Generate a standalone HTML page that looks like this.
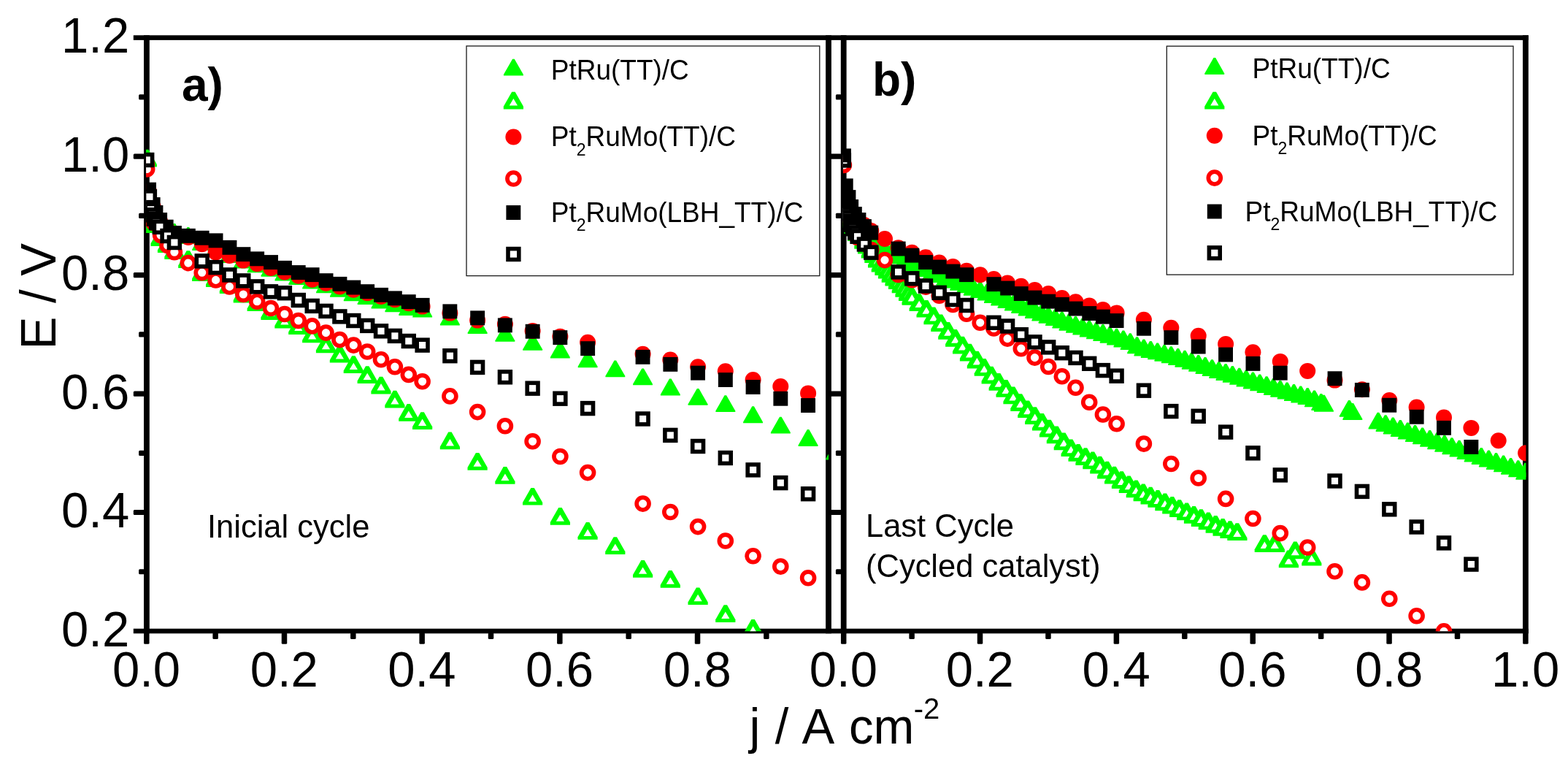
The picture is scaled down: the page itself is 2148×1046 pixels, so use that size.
<!DOCTYPE html>
<html lang="en">
<head>
<meta charset="utf-8">
<title>Polarization curves</title>
<style>html,body{margin:0;padding:0;background:#fff;}body{width:2148px;height:1046px;overflow:hidden;}svg{display:block;}text{fill:#000;}</style>
</head>
<body>
<svg width="2148" height="1046" viewBox="0 0 2148 1046" role="img" aria-label="Polarization curves E / V versus j / A cm-2 for panels a and b">
<rect width="2148" height="1046" fill="#fff"/>
<defs>
<clipPath id="ca"><rect x="200.1" y="51.6" width="934.9" height="812.7"/></clipPath>
<clipPath id="cb"><rect x="1154.9" y="51.6" width="935.5" height="812.7"/></clipPath>
</defs>
<rect x="182.8" y="48.30" width="1911.0" height="6.6" fill="#000"/>
<rect x="182.8" y="860.70" width="1911.0" height="6.6" fill="#000"/>
<rect x="197.00" y="48.30" width="7.8" height="819.00" fill="#000"/>
<rect x="1131.10" y="48.30" width="7.8" height="819.00" fill="#000"/>
<rect x="1151.80" y="48.30" width="7.8" height="819.00" fill="#000"/>
<rect x="2086.00" y="48.30" width="7.8" height="819.00" fill="#000"/>
<rect x="190.1" y="779.16" width="7.9" height="7.2" rx="1.5" fill="#000"/>
<rect x="1144.9" y="779.16" width="7.9" height="7.2" rx="1.5" fill="#000"/>
<rect x="182.8" y="697.92" width="15.2" height="7.2" rx="1.5" fill="#000"/>
<rect x="1137.6" y="697.92" width="15.2" height="7.2" rx="1.5" fill="#000"/>
<rect x="190.1" y="616.68" width="7.9" height="7.2" rx="1.5" fill="#000"/>
<rect x="1144.9" y="616.68" width="7.9" height="7.2" rx="1.5" fill="#000"/>
<rect x="182.8" y="535.44" width="15.2" height="7.2" rx="1.5" fill="#000"/>
<rect x="1137.6" y="535.44" width="15.2" height="7.2" rx="1.5" fill="#000"/>
<rect x="190.1" y="454.20" width="7.9" height="7.2" rx="1.5" fill="#000"/>
<rect x="1144.9" y="454.20" width="7.9" height="7.2" rx="1.5" fill="#000"/>
<rect x="182.8" y="372.96" width="15.2" height="7.2" rx="1.5" fill="#000"/>
<rect x="1137.6" y="372.96" width="15.2" height="7.2" rx="1.5" fill="#000"/>
<rect x="190.1" y="291.72" width="7.9" height="7.2" rx="1.5" fill="#000"/>
<rect x="1144.9" y="291.72" width="7.9" height="7.2" rx="1.5" fill="#000"/>
<rect x="182.8" y="210.48" width="15.2" height="7.2" rx="1.5" fill="#000"/>
<rect x="1137.6" y="210.48" width="15.2" height="7.2" rx="1.5" fill="#000"/>
<rect x="190.1" y="129.24" width="7.9" height="7.2" rx="1.5" fill="#000"/>
<rect x="1144.9" y="129.24" width="7.9" height="7.2" rx="1.5" fill="#000"/>
<rect x="197.05" y="866.30" width="7.5" height="15.4" rx="1.5" fill="#000"/>
<rect x="291.39" y="866.30" width="7.5" height="8.6" rx="1.5" fill="#000"/>
<rect x="385.73" y="866.30" width="7.5" height="15.4" rx="1.5" fill="#000"/>
<rect x="480.07" y="866.30" width="7.5" height="8.6" rx="1.5" fill="#000"/>
<rect x="574.41" y="866.30" width="7.5" height="15.4" rx="1.5" fill="#000"/>
<rect x="668.75" y="866.30" width="7.5" height="8.6" rx="1.5" fill="#000"/>
<rect x="763.09" y="866.30" width="7.5" height="15.4" rx="1.5" fill="#000"/>
<rect x="857.43" y="866.30" width="7.5" height="8.6" rx="1.5" fill="#000"/>
<rect x="951.77" y="866.30" width="7.5" height="15.4" rx="1.5" fill="#000"/>
<rect x="1046.11" y="866.30" width="7.5" height="8.6" rx="1.5" fill="#000"/>
<rect x="1151.95" y="866.30" width="7.5" height="15.4" rx="1.5" fill="#000"/>
<rect x="1245.37" y="866.30" width="7.5" height="8.6" rx="1.5" fill="#000"/>
<rect x="1338.79" y="866.30" width="7.5" height="15.4" rx="1.5" fill="#000"/>
<rect x="1432.21" y="866.30" width="7.5" height="8.6" rx="1.5" fill="#000"/>
<rect x="1525.63" y="866.30" width="7.5" height="15.4" rx="1.5" fill="#000"/>
<rect x="1619.05" y="866.30" width="7.5" height="8.6" rx="1.5" fill="#000"/>
<rect x="1712.47" y="866.30" width="7.5" height="15.4" rx="1.5" fill="#000"/>
<rect x="1805.89" y="866.30" width="7.5" height="8.6" rx="1.5" fill="#000"/>
<rect x="1899.31" y="866.30" width="7.5" height="15.4" rx="1.5" fill="#000"/>
<rect x="1992.73" y="866.30" width="7.5" height="8.6" rx="1.5" fill="#000"/>
<rect x="2086.15" y="866.30" width="7.5" height="15.4" rx="1.5" fill="#000"/>
<g clip-path="url(#ca)">
<polygon points="199.9,205.1 202.5,205.1 214.6,226.5 214.6,228.0 187.8,228.0 187.8,226.5" fill="#00ff00"/><polygon points="204.6,272.1 207.2,272.1 219.4,293.5 219.4,295.0 192.5,295.0 192.5,293.5" fill="#00ff00"/><polygon points="209.3,285.1 211.9,285.1 224.1,306.5 224.1,308.0 197.2,308.0 197.2,306.5" fill="#00ff00"/><polygon points="218.8,295.1 221.4,295.1 233.5,316.5 233.5,318.0 206.6,318.0 206.6,316.5" fill="#00ff00"/><polygon points="228.2,301.1 230.8,301.1 243.0,322.5 243.0,324.0 216.1,324.0 216.1,322.5" fill="#00ff00"/><polygon points="237.6,306.1 240.2,306.1 252.4,327.5 252.4,329.0 225.5,329.0 225.5,327.5" fill="#00ff00"/><polygon points="256.5,311.1 259.1,311.1 271.3,332.5 271.3,334.0 244.4,334.0 244.4,332.5" fill="#00ff00"/><polygon points="275.4,320.1 278.0,320.1 290.1,341.5 290.1,343.0 263.2,343.0 263.2,341.5" fill="#00ff00"/><polygon points="294.3,329.1 296.9,329.1 309.0,350.5 309.0,352.0 282.1,352.0 282.1,350.5" fill="#00ff00"/><polygon points="313.1,337.1 315.7,337.1 327.9,358.5 327.9,360.0 301.0,360.0 301.0,358.5" fill="#00ff00"/><polygon points="332.0,344.7 334.6,344.7 346.8,366.1 346.8,367.6 319.9,367.6 319.9,366.1" fill="#00ff00"/><polygon points="350.9,350.3 353.5,350.3 365.6,371.7 365.6,373.2 338.7,373.2 338.7,371.7" fill="#00ff00"/><polygon points="369.7,355.9 372.3,355.9 384.5,377.3 384.5,378.8 357.6,378.8 357.6,377.3" fill="#00ff00"/><polygon points="388.6,361.5 391.2,361.5 403.4,382.9 403.4,384.4 376.5,384.4 376.5,382.9" fill="#00ff00"/><polygon points="407.5,367.1 410.1,367.1 422.2,388.5 422.2,390.0 395.3,390.0 395.3,388.5" fill="#00ff00"/><polygon points="426.4,372.7 429.0,372.7 441.1,394.1 441.1,395.6 414.2,395.6 414.2,394.1" fill="#00ff00"/><polygon points="445.2,378.3 447.8,378.3 460.0,399.7 460.0,401.2 433.1,401.2 433.1,399.7" fill="#00ff00"/><polygon points="464.1,383.8 466.7,383.8 478.9,405.2 478.9,406.7 452.0,406.7 452.0,405.2" fill="#00ff00"/><polygon points="483.0,389.4 485.6,389.4 497.7,410.8 497.7,412.3 470.8,412.3 470.8,410.8" fill="#00ff00"/><polygon points="501.9,394.1 504.5,394.1 516.6,415.5 516.6,417.0 489.7,417.0 489.7,415.5" fill="#00ff00"/><polygon points="520.7,399.7 523.3,399.7 535.5,421.1 535.5,422.6 508.6,422.6 508.6,421.1" fill="#00ff00"/><polygon points="539.6,404.4 542.2,404.4 554.3,425.8 554.3,427.3 527.4,427.3 527.4,425.8" fill="#00ff00"/><polygon points="558.5,409.0 561.1,409.0 573.2,430.4 573.2,431.9 546.3,431.9 546.3,430.4" fill="#00ff00"/><polygon points="577.3,411.6 579.9,411.6 592.1,433.0 592.1,434.5 565.2,434.5 565.2,433.0" fill="#00ff00"/><polygon points="615.1,422.5 617.7,422.5 629.8,443.9 629.8,445.4 602.9,445.4 602.9,443.9" fill="#00ff00"/><polygon points="652.8,434.2 655.4,434.2 667.6,455.6 667.6,457.1 640.7,457.1 640.7,455.6" fill="#00ff00"/><polygon points="690.6,444.9 693.2,444.9 705.3,466.3 705.3,467.8 678.4,467.8 678.4,466.3" fill="#00ff00"/><polygon points="728.3,456.9 730.9,456.9 743.1,478.3 743.1,479.8 716.2,479.8 716.2,478.3" fill="#00ff00"/><polygon points="766.1,467.6 768.7,467.6 780.8,489.0 780.8,490.5 753.9,490.5 753.9,489.0" fill="#00ff00"/><polygon points="803.8,480.3 806.4,480.3 818.6,501.7 818.6,503.2 791.7,503.2 791.7,501.7" fill="#00ff00"/><polygon points="841.5,493.4 844.1,493.4 856.3,514.8 856.3,516.3 829.4,516.3 829.4,514.8" fill="#00ff00"/><polygon points="879.3,504.4 881.9,504.4 894.0,525.8 894.0,527.3 867.1,527.3 867.1,525.8" fill="#00ff00"/><polygon points="917.0,518.5 919.6,518.5 931.8,539.9 931.8,541.4 904.9,541.4 904.9,539.9" fill="#00ff00"/><polygon points="954.8,531.9 957.4,531.9 969.5,553.3 969.5,554.8 942.6,554.8 942.6,553.3" fill="#00ff00"/><polygon points="992.5,541.2 995.1,541.2 1007.3,562.6 1007.3,564.1 980.4,564.1 980.4,562.6" fill="#00ff00"/><polygon points="1030.3,556.3 1032.9,556.3 1045.0,577.7 1045.0,579.2 1018.1,579.2 1018.1,577.7" fill="#00ff00"/><polygon points="1068.0,570.7 1070.6,570.7 1082.8,592.1 1082.8,593.6 1055.9,593.6 1055.9,592.1" fill="#00ff00"/><polygon points="1105.8,588.1 1108.4,588.1 1120.5,609.5 1120.5,611.0 1093.6,611.0 1093.6,609.5" fill="#00ff00"/><polygon points="1143.5,606.6 1146.1,606.6 1158.2,628.0 1158.2,629.5 1131.3,629.5 1131.3,628.0" fill="#00ff00"/>
<polygon points="199.0,204.8 203.4,204.8 214.8,224.9 214.8,228.5 187.6,228.5 187.6,224.9" fill="#00ff00"/><polygon points="201.2,214.2 206.8,223.6 195.6,223.6" fill="#fff"/><polygon points="203.7,282.3 208.1,282.3 219.5,302.4 219.5,306.0 192.3,306.0 192.3,302.4" fill="#00ff00"/><polygon points="205.9,291.7 211.5,301.1 200.3,301.1" fill="#fff"/><polygon points="208.4,295.3 212.8,295.3 224.2,315.4 224.2,319.0 197.0,319.0 197.0,315.4" fill="#00ff00"/><polygon points="210.6,304.7 216.2,314.1 205.0,314.1" fill="#fff"/><polygon points="217.9,313.3 222.3,313.3 233.7,333.4 233.7,337.0 206.5,337.0 206.5,333.4" fill="#00ff00"/><polygon points="220.1,322.7 225.7,332.1 214.5,332.1" fill="#fff"/><polygon points="227.3,322.3 231.7,322.3 243.1,342.4 243.1,346.0 215.9,346.0 215.9,342.4" fill="#00ff00"/><polygon points="229.5,331.7 235.1,341.1 223.9,341.1" fill="#fff"/><polygon points="236.7,331.3 241.1,331.3 252.5,351.4 252.5,355.0 225.3,355.0 225.3,351.4" fill="#00ff00"/><polygon points="238.9,340.7 244.5,350.1 233.3,350.1" fill="#fff"/><polygon points="255.6,343.3 260.0,343.3 271.4,363.4 271.4,367.0 244.2,367.0 244.2,363.4" fill="#00ff00"/><polygon points="257.8,352.7 263.4,362.1 252.2,362.1" fill="#fff"/><polygon points="274.5,361.3 278.9,361.3 290.3,381.4 290.3,385.0 263.1,385.0 263.1,381.4" fill="#00ff00"/><polygon points="276.7,370.7 282.3,380.1 271.1,380.1" fill="#fff"/><polygon points="293.4,369.3 297.8,369.3 309.2,389.4 309.2,393.0 282.0,393.0 282.0,389.4" fill="#00ff00"/><polygon points="295.6,378.7 301.2,388.1 290.0,388.1" fill="#fff"/><polygon points="312.2,378.3 316.6,378.3 328.0,398.4 328.0,402.0 300.8,402.0 300.8,398.4" fill="#00ff00"/><polygon points="314.4,387.7 320.0,397.1 308.8,397.1" fill="#fff"/><polygon points="331.1,390.8 335.5,390.8 346.9,410.9 346.9,414.5 319.7,414.5 319.7,410.9" fill="#00ff00"/><polygon points="333.3,400.2 338.9,409.6 327.7,409.6" fill="#fff"/><polygon points="350.0,402.3 354.4,402.3 365.8,422.4 365.8,426.0 338.6,426.0 338.6,422.4" fill="#00ff00"/><polygon points="352.2,411.7 357.8,421.1 346.6,421.1" fill="#fff"/><polygon points="368.8,414.3 373.2,414.3 384.6,434.4 384.6,438.0 357.4,438.0 357.4,434.4" fill="#00ff00"/><polygon points="371.0,423.7 376.6,433.1 365.4,433.1" fill="#fff"/><polygon points="387.7,425.8 392.1,425.8 403.5,445.9 403.5,449.5 376.3,449.5 376.3,445.9" fill="#00ff00"/><polygon points="389.9,435.2 395.5,444.6 384.3,444.6" fill="#fff"/><polygon points="406.6,434.3 411.0,434.3 422.4,454.4 422.4,458.0 395.2,458.0 395.2,454.4" fill="#00ff00"/><polygon points="408.8,443.7 414.4,453.1 403.2,453.1" fill="#fff"/><polygon points="425.5,445.6 429.9,445.6 441.3,465.7 441.3,469.3 414.1,469.3 414.1,465.7" fill="#00ff00"/><polygon points="427.7,455.0 433.3,464.4 422.1,464.4" fill="#fff"/><polygon points="444.3,459.5 448.7,459.5 460.1,479.6 460.1,483.2 432.9,483.2 432.9,479.6" fill="#00ff00"/><polygon points="446.5,468.9 452.1,478.3 440.9,478.3" fill="#fff"/><polygon points="463.2,472.8 467.6,472.8 479.0,492.9 479.0,496.5 451.8,496.5 451.8,492.9" fill="#00ff00"/><polygon points="465.4,482.2 471.0,491.6 459.8,491.6" fill="#fff"/><polygon points="482.1,487.3 486.5,487.3 497.9,507.4 497.9,511.0 470.7,511.0 470.7,507.4" fill="#00ff00"/><polygon points="484.3,496.7 489.9,506.1 478.7,506.1" fill="#fff"/><polygon points="501.0,501.3 505.4,501.3 516.8,521.4 516.8,525.0 489.6,525.0 489.6,521.4" fill="#00ff00"/><polygon points="503.2,510.7 508.8,520.1 497.6,520.1" fill="#fff"/><polygon points="519.8,515.7 524.2,515.7 535.6,535.8 535.6,539.4 508.4,539.4 508.4,535.8" fill="#00ff00"/><polygon points="522.0,525.1 527.6,534.5 516.4,534.5" fill="#fff"/><polygon points="538.7,534.7 543.1,534.7 554.5,554.8 554.5,558.4 527.3,558.4 527.3,554.8" fill="#00ff00"/><polygon points="540.9,544.1 546.5,553.5 535.3,553.5" fill="#fff"/><polygon points="557.6,553.1 562.0,553.1 573.4,573.2 573.4,576.8 546.2,576.8 546.2,573.2" fill="#00ff00"/><polygon points="559.8,562.5 565.4,571.9 554.2,571.9" fill="#fff"/><polygon points="576.4,564.2 580.8,564.2 592.2,584.3 592.2,587.9 565.0,587.9 565.0,584.3" fill="#00ff00"/><polygon points="578.6,573.6 584.2,583.0 573.0,583.0" fill="#fff"/><polygon points="614.2,591.6 618.6,591.6 630.0,611.7 630.0,615.3 602.8,615.3 602.8,611.7" fill="#00ff00"/><polygon points="616.4,601.0 622.0,610.4 610.8,610.4" fill="#fff"/><polygon points="651.9,620.0 656.3,620.0 667.7,640.1 667.7,643.7 640.5,643.7 640.5,640.1" fill="#00ff00"/><polygon points="654.1,629.4 659.7,638.8 648.5,638.8" fill="#fff"/><polygon points="689.7,639.1 694.1,639.1 705.5,659.2 705.5,662.8 678.3,662.8 678.3,659.2" fill="#00ff00"/><polygon points="691.9,648.5 697.5,657.9 686.3,657.9" fill="#fff"/><polygon points="727.4,667.9 731.8,667.9 743.2,688.0 743.2,691.6 716.0,691.6 716.0,688.0" fill="#00ff00"/><polygon points="729.6,677.3 735.2,686.7 724.0,686.7" fill="#fff"/><polygon points="765.2,695.0 769.6,695.0 781.0,715.1 781.0,718.7 753.8,718.7 753.8,715.1" fill="#00ff00"/><polygon points="767.4,704.4 773.0,713.8 761.8,713.8" fill="#fff"/><polygon points="802.9,715.1 807.3,715.1 818.7,735.2 818.7,738.8 791.5,738.8 791.5,735.2" fill="#00ff00"/><polygon points="805.1,724.5 810.7,733.9 799.5,733.9" fill="#fff"/><polygon points="840.6,735.2 845.0,735.2 856.4,755.3 856.4,758.9 829.2,758.9 829.2,755.3" fill="#00ff00"/><polygon points="842.8,744.6 848.4,754.0 837.2,754.0" fill="#fff"/><polygon points="878.4,767.0 882.8,767.0 894.2,787.1 894.2,790.7 867.0,790.7 867.0,787.1" fill="#00ff00"/><polygon points="880.6,776.4 886.2,785.8 875.0,785.8" fill="#fff"/><polygon points="916.1,781.0 920.5,781.0 931.9,801.1 931.9,804.7 904.7,804.7 904.7,801.1" fill="#00ff00"/><polygon points="918.3,790.4 923.9,799.8 912.7,799.8" fill="#fff"/><polygon points="953.9,804.4 958.3,804.4 969.7,824.5 969.7,828.1 942.5,828.1 942.5,824.5" fill="#00ff00"/><polygon points="956.1,813.8 961.7,823.2 950.5,823.2" fill="#fff"/><polygon points="991.6,828.2 996.0,828.2 1007.4,848.3 1007.4,851.9 980.2,851.9 980.2,848.3" fill="#00ff00"/><polygon points="993.8,837.6 999.4,847.0 988.2,847.0" fill="#fff"/><polygon points="1029.4,847.9 1033.8,847.9 1045.2,868.0 1045.2,871.6 1018.0,871.6 1018.0,868.0" fill="#00ff00"/><polygon points="1031.6,857.3 1037.2,866.7 1026.0,866.7" fill="#fff"/>
<circle cx="201.2" cy="225.0" r="11.0" fill="#ff0000"/><circle cx="204.0" cy="262.0" r="11.0" fill="#ff0000"/><circle cx="209.7" cy="283.0" r="11.0" fill="#ff0000"/><circle cx="219.1" cy="303.0" r="11.0" fill="#ff0000"/><circle cx="227.6" cy="312.0" r="11.0" fill="#ff0000"/><circle cx="238.9" cy="320.0" r="11.0" fill="#ff0000"/><circle cx="257.8" cy="324.9" r="11.0" fill="#ff0000"/><circle cx="276.7" cy="334.2" r="11.0" fill="#ff0000"/><circle cx="295.6" cy="345.4" r="11.0" fill="#ff0000"/><circle cx="314.4" cy="350.0" r="11.0" fill="#ff0000"/><circle cx="333.3" cy="356.6" r="11.0" fill="#ff0000"/><circle cx="352.2" cy="361.3" r="11.0" fill="#ff0000"/><circle cx="371.0" cy="366.9" r="11.0" fill="#ff0000"/><circle cx="389.9" cy="372.5" r="11.0" fill="#ff0000"/><circle cx="408.8" cy="377.7" r="11.0" fill="#ff0000"/><circle cx="427.7" cy="382.7" r="11.0" fill="#ff0000"/><circle cx="446.5" cy="387.7" r="11.0" fill="#ff0000"/><circle cx="465.4" cy="392.4" r="11.0" fill="#ff0000"/><circle cx="484.3" cy="396.7" r="11.0" fill="#ff0000"/><circle cx="503.2" cy="401.3" r="11.0" fill="#ff0000"/><circle cx="522.0" cy="406.0" r="11.0" fill="#ff0000"/><circle cx="540.9" cy="410.3" r="11.0" fill="#ff0000"/><circle cx="559.8" cy="415.3" r="11.0" fill="#ff0000"/><circle cx="578.6" cy="419.6" r="11.0" fill="#ff0000"/><circle cx="616.4" cy="428.6" r="11.0" fill="#ff0000"/><circle cx="654.1" cy="438.6" r="11.0" fill="#ff0000"/><circle cx="691.9" cy="443.7" r="11.0" fill="#ff0000"/><circle cx="729.6" cy="453.0" r="11.0" fill="#ff0000"/><circle cx="767.4" cy="460.7" r="11.0" fill="#ff0000"/><circle cx="805.1" cy="468.8" r="11.0" fill="#ff0000"/><circle cx="880.6" cy="484.8" r="11.0" fill="#ff0000"/><circle cx="918.3" cy="492.5" r="11.0" fill="#ff0000"/><circle cx="956.1" cy="502.2" r="11.0" fill="#ff0000"/><circle cx="993.8" cy="508.2" r="11.0" fill="#ff0000"/><circle cx="1031.6" cy="520.0" r="11.0" fill="#ff0000"/><circle cx="1069.3" cy="529.0" r="11.0" fill="#ff0000"/><circle cx="1107.1" cy="538.4" r="11.0" fill="#ff0000"/>
<circle cx="201.2" cy="231.5" r="8.45" fill="#fff" stroke="#ff0000" stroke-width="5.7"/><circle cx="210.6" cy="305.0" r="8.45" fill="#fff" stroke="#ff0000" stroke-width="5.7"/><circle cx="220.1" cy="322.0" r="8.45" fill="#fff" stroke="#ff0000" stroke-width="5.7"/><circle cx="229.5" cy="336.0" r="8.45" fill="#fff" stroke="#ff0000" stroke-width="5.7"/><circle cx="238.9" cy="345.2" r="8.45" fill="#fff" stroke="#ff0000" stroke-width="5.7"/><circle cx="257.8" cy="360.1" r="8.45" fill="#fff" stroke="#ff0000" stroke-width="5.7"/><circle cx="276.7" cy="373.2" r="8.45" fill="#fff" stroke="#ff0000" stroke-width="5.7"/><circle cx="295.6" cy="383.4" r="8.45" fill="#fff" stroke="#ff0000" stroke-width="5.7"/><circle cx="314.4" cy="392.4" r="8.45" fill="#fff" stroke="#ff0000" stroke-width="5.7"/><circle cx="333.3" cy="403.0" r="8.45" fill="#fff" stroke="#ff0000" stroke-width="5.7"/><circle cx="352.2" cy="412.7" r="8.45" fill="#fff" stroke="#ff0000" stroke-width="5.7"/><circle cx="371.0" cy="422.0" r="8.45" fill="#fff" stroke="#ff0000" stroke-width="5.7"/><circle cx="389.9" cy="430.0" r="8.45" fill="#fff" stroke="#ff0000" stroke-width="5.7"/><circle cx="408.8" cy="439.0" r="8.45" fill="#fff" stroke="#ff0000" stroke-width="5.7"/><circle cx="427.7" cy="446.4" r="8.45" fill="#fff" stroke="#ff0000" stroke-width="5.7"/><circle cx="446.5" cy="455.6" r="8.45" fill="#fff" stroke="#ff0000" stroke-width="5.7"/><circle cx="465.4" cy="465.1" r="8.45" fill="#fff" stroke="#ff0000" stroke-width="5.7"/><circle cx="484.3" cy="472.6" r="8.45" fill="#fff" stroke="#ff0000" stroke-width="5.7"/><circle cx="503.2" cy="481.5" r="8.45" fill="#fff" stroke="#ff0000" stroke-width="5.7"/><circle cx="522.0" cy="492.2" r="8.45" fill="#fff" stroke="#ff0000" stroke-width="5.7"/><circle cx="540.9" cy="502.2" r="8.45" fill="#fff" stroke="#ff0000" stroke-width="5.7"/><circle cx="559.8" cy="512.9" r="8.45" fill="#fff" stroke="#ff0000" stroke-width="5.7"/><circle cx="578.6" cy="522.3" r="8.45" fill="#fff" stroke="#ff0000" stroke-width="5.7"/><circle cx="616.4" cy="542.4" r="8.45" fill="#fff" stroke="#ff0000" stroke-width="5.7"/><circle cx="654.1" cy="564.1" r="8.45" fill="#fff" stroke="#ff0000" stroke-width="5.7"/><circle cx="691.9" cy="583.2" r="8.45" fill="#fff" stroke="#ff0000" stroke-width="5.7"/><circle cx="729.6" cy="604.3" r="8.45" fill="#fff" stroke="#ff0000" stroke-width="5.7"/><circle cx="767.4" cy="625.0" r="8.45" fill="#fff" stroke="#ff0000" stroke-width="5.7"/><circle cx="805.1" cy="647.1" r="8.45" fill="#fff" stroke="#ff0000" stroke-width="5.7"/><circle cx="880.6" cy="689.6" r="8.45" fill="#fff" stroke="#ff0000" stroke-width="5.7"/><circle cx="918.3" cy="701.0" r="8.45" fill="#fff" stroke="#ff0000" stroke-width="5.7"/><circle cx="956.1" cy="721.1" r="8.45" fill="#fff" stroke="#ff0000" stroke-width="5.7"/><circle cx="993.8" cy="740.5" r="8.45" fill="#fff" stroke="#ff0000" stroke-width="5.7"/><circle cx="1031.6" cy="761.2" r="8.45" fill="#fff" stroke="#ff0000" stroke-width="5.7"/><circle cx="1069.3" cy="775.6" r="8.45" fill="#fff" stroke="#ff0000" stroke-width="5.7"/><circle cx="1107.1" cy="791.3" r="8.45" fill="#fff" stroke="#ff0000" stroke-width="5.7"/>
<rect x="194.1" y="249.7" width="19.9" height="19.9" fill="#000000"/><rect x="199.7" y="270.1" width="19.9" height="19.9" fill="#000000"/><rect x="203.5" y="281.1" width="19.9" height="19.9" fill="#000000"/><rect x="209.2" y="291.1" width="19.9" height="19.9" fill="#000000"/><rect x="217.7" y="300.7" width="19.9" height="19.9" fill="#000000"/><rect x="229.0" y="309.1" width="19.9" height="19.9" fill="#000000"/><rect x="247.9" y="312.9" width="19.9" height="19.9" fill="#000000"/><rect x="266.7" y="315.8" width="19.9" height="19.9" fill="#000000"/><rect x="285.6" y="319.4" width="19.9" height="19.9" fill="#000000"/><rect x="304.5" y="328.9" width="19.9" height="19.9" fill="#000000"/><rect x="323.4" y="338.2" width="19.9" height="19.9" fill="#000000"/><rect x="342.2" y="344.4" width="19.9" height="19.9" fill="#000000"/><rect x="361.1" y="349.1" width="19.9" height="19.9" fill="#000000"/><rect x="380.0" y="356.9" width="19.9" height="19.9" fill="#000000"/><rect x="398.8" y="363.1" width="19.9" height="19.9" fill="#000000"/><rect x="417.7" y="366.2" width="19.9" height="19.9" fill="#000000"/><rect x="436.6" y="374.2" width="19.9" height="19.9" fill="#000000"/><rect x="455.5" y="378.9" width="19.9" height="19.9" fill="#000000"/><rect x="474.3" y="383.6" width="19.9" height="19.9" fill="#000000"/><rect x="493.2" y="389.2" width="19.9" height="19.9" fill="#000000"/><rect x="512.1" y="393.9" width="19.9" height="19.9" fill="#000000"/><rect x="530.9" y="398.4" width="19.9" height="19.9" fill="#000000"/><rect x="549.8" y="403.2" width="19.9" height="19.9" fill="#000000"/><rect x="568.7" y="407.9" width="19.9" height="19.9" fill="#000000"/><rect x="606.4" y="416.4" width="19.9" height="19.9" fill="#000000"/><rect x="644.2" y="425.4" width="19.9" height="19.9" fill="#000000"/><rect x="681.9" y="435.4" width="19.9" height="19.9" fill="#000000"/><rect x="719.7" y="443.8" width="19.9" height="19.9" fill="#000000"/><rect x="757.4" y="452.2" width="19.9" height="19.9" fill="#000000"/><rect x="795.2" y="467.2" width="19.9" height="19.9" fill="#000000"/><rect x="870.6" y="478.9" width="19.9" height="19.9" fill="#000000"/><rect x="908.4" y="488.9" width="19.9" height="19.9" fill="#000000"/><rect x="946.1" y="500.7" width="19.9" height="19.9" fill="#000000"/><rect x="983.9" y="510.1" width="19.9" height="19.9" fill="#000000"/><rect x="1021.6" y="520.0" width="19.9" height="19.9" fill="#000000"/><rect x="1059.4" y="535.8" width="19.9" height="19.9" fill="#000000"/><rect x="1097.1" y="545.1" width="19.9" height="19.9" fill="#000000"/>
<rect x="193.8" y="211.6" width="14.8" height="14.8" fill="#fff" stroke="#000000" stroke-width="5.6"/><rect x="197.5" y="261.9" width="14.8" height="14.8" fill="#fff" stroke="#000000" stroke-width="5.6"/><rect x="199.1" y="279.5" width="14.8" height="14.8" fill="#fff" stroke="#000000" stroke-width="5.6"/><rect x="201.1" y="286.9" width="14.8" height="14.8" fill="#fff" stroke="#000000" stroke-width="5.6"/><rect x="203.6" y="292.3" width="14.8" height="14.8" fill="#fff" stroke="#000000" stroke-width="5.6"/><rect x="206.6" y="297.8" width="14.8" height="14.8" fill="#fff" stroke="#000000" stroke-width="5.6"/><rect x="211.4" y="303.4" width="14.8" height="14.8" fill="#fff" stroke="#000000" stroke-width="5.6"/><rect x="222.1" y="315.6" width="14.8" height="14.8" fill="#fff" stroke="#000000" stroke-width="5.6"/><rect x="231.5" y="324.6" width="14.8" height="14.8" fill="#fff" stroke="#000000" stroke-width="5.6"/><rect x="269.3" y="350.0" width="14.8" height="14.8" fill="#fff" stroke="#000000" stroke-width="5.6"/><rect x="288.2" y="358.7" width="14.8" height="14.8" fill="#fff" stroke="#000000" stroke-width="5.6"/><rect x="307.0" y="369.0" width="14.8" height="14.8" fill="#fff" stroke="#000000" stroke-width="5.6"/><rect x="325.9" y="377.0" width="14.8" height="14.8" fill="#fff" stroke="#000000" stroke-width="5.6"/><rect x="344.8" y="385.0" width="14.8" height="14.8" fill="#fff" stroke="#000000" stroke-width="5.6"/><rect x="363.6" y="391.9" width="14.8" height="14.8" fill="#fff" stroke="#000000" stroke-width="5.6"/><rect x="382.5" y="393.8" width="14.8" height="14.8" fill="#fff" stroke="#000000" stroke-width="5.6"/><rect x="401.4" y="403.6" width="14.8" height="14.8" fill="#fff" stroke="#000000" stroke-width="5.6"/><rect x="420.3" y="411.5" width="14.8" height="14.8" fill="#fff" stroke="#000000" stroke-width="5.6"/><rect x="439.1" y="418.5" width="14.8" height="14.8" fill="#fff" stroke="#000000" stroke-width="5.6"/><rect x="458.0" y="426.0" width="14.8" height="14.8" fill="#fff" stroke="#000000" stroke-width="5.6"/><rect x="476.9" y="431.6" width="14.8" height="14.8" fill="#fff" stroke="#000000" stroke-width="5.6"/><rect x="495.8" y="438.5" width="14.8" height="14.8" fill="#fff" stroke="#000000" stroke-width="5.6"/><rect x="514.6" y="445.9" width="14.8" height="14.8" fill="#fff" stroke="#000000" stroke-width="5.6"/><rect x="533.5" y="452.5" width="14.8" height="14.8" fill="#fff" stroke="#000000" stroke-width="5.6"/><rect x="552.4" y="459.6" width="14.8" height="14.8" fill="#fff" stroke="#000000" stroke-width="5.6"/><rect x="571.2" y="465.2" width="14.8" height="14.8" fill="#fff" stroke="#000000" stroke-width="5.6"/><rect x="609.0" y="479.8" width="14.8" height="14.8" fill="#fff" stroke="#000000" stroke-width="5.6"/><rect x="646.7" y="495.5" width="14.8" height="14.8" fill="#fff" stroke="#000000" stroke-width="5.6"/><rect x="684.5" y="508.9" width="14.8" height="14.8" fill="#fff" stroke="#000000" stroke-width="5.6"/><rect x="722.2" y="524.3" width="14.8" height="14.8" fill="#fff" stroke="#000000" stroke-width="5.6"/><rect x="760.0" y="538.3" width="14.8" height="14.8" fill="#fff" stroke="#000000" stroke-width="5.6"/><rect x="797.7" y="551.7" width="14.8" height="14.8" fill="#fff" stroke="#000000" stroke-width="5.6"/><rect x="873.2" y="566.1" width="14.8" height="14.8" fill="#fff" stroke="#000000" stroke-width="5.6"/><rect x="910.9" y="588.5" width="14.8" height="14.8" fill="#fff" stroke="#000000" stroke-width="5.6"/><rect x="948.7" y="603.6" width="14.8" height="14.8" fill="#fff" stroke="#000000" stroke-width="5.6"/><rect x="986.4" y="619.6" width="14.8" height="14.8" fill="#fff" stroke="#000000" stroke-width="5.6"/><rect x="1024.2" y="636.0" width="14.8" height="14.8" fill="#fff" stroke="#000000" stroke-width="5.6"/><rect x="1061.9" y="653.7" width="14.8" height="14.8" fill="#fff" stroke="#000000" stroke-width="5.6"/><rect x="1099.7" y="668.8" width="14.8" height="14.8" fill="#fff" stroke="#000000" stroke-width="5.6"/>

</g>
<g clip-path="url(#cb)">
<polygon points="1163.9,287.1 1166.5,287.1 1178.7,308.5 1178.7,310.0 1151.8,310.0 1151.8,308.5" fill="#00ff00"/><polygon points="1168.6,297.1 1171.2,297.1 1183.4,318.5 1183.4,320.0 1156.5,320.0 1156.5,318.5" fill="#00ff00"/><polygon points="1173.3,307.1 1175.9,307.1 1188.0,328.5 1188.0,330.0 1161.1,330.0 1161.1,328.5" fill="#00ff00"/><polygon points="1182.6,313.6 1185.2,313.6 1197.4,335.0 1197.4,336.5 1170.5,336.5 1170.5,335.0" fill="#00ff00"/><polygon points="1192.0,320.1 1194.6,320.1 1206.7,341.5 1206.7,343.0 1179.8,343.0 1179.8,341.5" fill="#00ff00"/><polygon points="1201.3,324.6 1203.9,324.6 1216.1,346.0 1216.1,347.5 1189.2,347.5 1189.2,346.0" fill="#00ff00"/><polygon points="1210.7,329.1 1213.3,329.1 1225.4,350.5 1225.4,352.0 1198.5,352.0 1198.5,350.5" fill="#00ff00"/><polygon points="1220.0,333.9 1222.6,333.9 1234.7,355.2 1234.7,356.8 1207.8,356.8 1207.8,355.2" fill="#00ff00"/><polygon points="1229.3,338.6 1231.9,338.6 1244.1,360.0 1244.1,361.5 1217.2,361.5 1217.2,360.0" fill="#00ff00"/><polygon points="1238.7,343.4 1241.3,343.4 1253.4,364.8 1253.4,366.2 1226.5,366.2 1226.5,364.8" fill="#00ff00"/><polygon points="1248.0,348.1 1250.6,348.1 1262.8,369.5 1262.8,371.0 1235.9,371.0 1235.9,369.5" fill="#00ff00"/><polygon points="1257.4,352.1 1260.0,352.1 1272.1,373.5 1272.1,375.0 1245.2,375.0 1245.2,373.5" fill="#00ff00"/><polygon points="1266.7,356.1 1269.3,356.1 1281.5,377.5 1281.5,379.0 1254.6,379.0 1254.6,377.5" fill="#00ff00"/><polygon points="1276.0,360.1 1278.6,360.1 1290.8,381.5 1290.8,383.0 1263.9,383.0 1263.9,381.5" fill="#00ff00"/><polygon points="1285.4,364.1 1288.0,364.1 1300.1,385.5 1300.1,387.0 1273.2,387.0 1273.2,385.5" fill="#00ff00"/><polygon points="1294.7,368.1 1297.3,368.1 1309.5,389.5 1309.5,391.0 1282.6,391.0 1282.6,389.5" fill="#00ff00"/><polygon points="1304.1,371.5 1306.7,371.5 1318.8,392.9 1318.8,394.4 1291.9,394.4 1291.9,392.9" fill="#00ff00"/><polygon points="1313.4,374.9 1316.0,374.9 1328.2,396.3 1328.2,397.8 1301.3,397.8 1301.3,396.3" fill="#00ff00"/><polygon points="1322.8,378.3 1325.4,378.3 1337.5,399.7 1337.5,401.2 1310.6,401.2 1310.6,399.7" fill="#00ff00"/><polygon points="1332.1,381.8 1334.7,381.8 1346.8,403.2 1346.8,404.7 1319.9,404.7 1319.9,403.2" fill="#00ff00"/><polygon points="1341.4,385.2 1344.0,385.2 1356.2,406.6 1356.2,408.1 1329.3,408.1 1329.3,406.6" fill="#00ff00"/><polygon points="1350.8,388.6 1353.4,388.6 1365.5,410.0 1365.5,411.5 1338.6,411.5 1338.6,410.0" fill="#00ff00"/><polygon points="1360.1,392.0 1362.7,392.0 1374.9,413.4 1374.9,414.9 1348.0,414.9 1348.0,413.4" fill="#00ff00"/><polygon points="1369.5,395.5 1372.1,395.5 1384.2,416.9 1384.2,418.4 1357.3,418.4 1357.3,416.9" fill="#00ff00"/><polygon points="1378.8,399.0 1381.4,399.0 1393.6,420.4 1393.6,421.9 1366.7,421.9 1366.7,420.4" fill="#00ff00"/><polygon points="1388.2,402.5 1390.8,402.5 1402.9,423.9 1402.9,425.4 1376.0,425.4 1376.0,423.9" fill="#00ff00"/><polygon points="1397.5,406.0 1400.1,406.0 1412.2,427.4 1412.2,428.9 1385.3,428.9 1385.3,427.4" fill="#00ff00"/><polygon points="1406.8,409.5 1409.4,409.5 1421.6,430.9 1421.6,432.4 1394.7,432.4 1394.7,430.9" fill="#00ff00"/><polygon points="1416.2,413.0 1418.8,413.0 1430.9,434.4 1430.9,435.9 1404.0,435.9 1404.0,434.4" fill="#00ff00"/><polygon points="1425.5,416.5 1428.1,416.5 1440.3,437.9 1440.3,439.4 1413.4,439.4 1413.4,437.9" fill="#00ff00"/><polygon points="1434.9,419.9 1437.5,419.9 1449.6,441.3 1449.6,442.8 1422.7,442.8 1422.7,441.3" fill="#00ff00"/><polygon points="1444.2,423.2 1446.8,423.2 1459.0,444.6 1459.0,446.1 1432.1,446.1 1432.1,444.6" fill="#00ff00"/><polygon points="1453.5,426.5 1456.1,426.5 1468.3,447.9 1468.3,449.4 1441.4,449.4 1441.4,447.9" fill="#00ff00"/><polygon points="1462.9,429.8 1465.5,429.8 1477.6,451.2 1477.6,452.7 1450.7,452.7 1450.7,451.2" fill="#00ff00"/><polygon points="1472.2,432.9 1474.8,432.9 1487.0,454.3 1487.0,455.8 1460.1,455.8 1460.1,454.3" fill="#00ff00"/><polygon points="1481.6,435.7 1484.2,435.7 1496.3,457.1 1496.3,458.6 1469.4,458.6 1469.4,457.1" fill="#00ff00"/><polygon points="1490.9,438.5 1493.5,438.5 1505.7,459.9 1505.7,461.4 1478.8,461.4 1478.8,459.9" fill="#00ff00"/><polygon points="1500.3,441.3 1502.9,441.3 1515.0,462.7 1515.0,464.2 1488.1,464.2 1488.1,462.7" fill="#00ff00"/><polygon points="1509.6,444.1 1512.2,444.1 1524.3,465.5 1524.3,467.0 1497.4,467.0 1497.4,465.5" fill="#00ff00"/><polygon points="1518.9,446.9 1521.5,446.9 1533.7,468.3 1533.7,469.8 1506.8,469.8 1506.8,468.3" fill="#00ff00"/><polygon points="1528.3,449.7 1530.9,449.7 1543.0,471.1 1543.0,472.6 1516.1,472.6 1516.1,471.1" fill="#00ff00"/><polygon points="1537.6,452.5 1540.2,452.5 1552.4,473.9 1552.4,475.4 1525.5,475.4 1525.5,473.9" fill="#00ff00"/><polygon points="1547.0,456.2 1549.6,456.2 1561.7,477.6 1561.7,479.1 1534.8,479.1 1534.8,477.6" fill="#00ff00"/><polygon points="1556.3,461.3 1558.9,461.3 1571.1,482.7 1571.1,484.2 1544.2,484.2 1544.2,482.7" fill="#00ff00"/><polygon points="1565.6,464.5 1568.2,464.5 1580.4,485.9 1580.4,487.4 1553.5,487.4 1553.5,485.9" fill="#00ff00"/><polygon points="1575.0,467.0 1577.6,467.0 1589.7,488.4 1589.7,489.9 1562.8,489.9 1562.8,488.4" fill="#00ff00"/><polygon points="1584.3,469.4 1586.9,469.4 1599.1,490.8 1599.1,492.3 1572.2,492.3 1572.2,490.8" fill="#00ff00"/><polygon points="1593.7,471.9 1596.3,471.9 1608.4,493.3 1608.4,494.8 1581.5,494.8 1581.5,493.3" fill="#00ff00"/><polygon points="1603.0,474.3 1605.6,474.3 1617.8,495.7 1617.8,497.2 1590.9,497.2 1590.9,495.7" fill="#00ff00"/><polygon points="1612.4,477.0 1615.0,477.0 1627.1,498.4 1627.1,499.9 1600.2,499.9 1600.2,498.4" fill="#00ff00"/><polygon points="1621.7,479.8 1624.3,479.8 1636.5,501.2 1636.5,502.7 1609.5,502.7 1609.5,501.2" fill="#00ff00"/><polygon points="1631.0,482.8 1633.6,482.8 1645.8,504.2 1645.8,505.7 1618.9,505.7 1618.9,504.2" fill="#00ff00"/><polygon points="1640.4,485.9 1643.0,485.9 1655.1,507.3 1655.1,508.8 1628.2,508.8 1628.2,507.3" fill="#00ff00"/><polygon points="1649.7,489.0 1652.3,489.0 1664.5,510.4 1664.5,511.9 1637.6,511.9 1637.6,510.4" fill="#00ff00"/><polygon points="1659.1,492.2 1661.7,492.2 1673.8,513.6 1673.8,515.1 1646.9,515.1 1646.9,513.6" fill="#00ff00"/><polygon points="1668.4,495.2 1671.0,495.2 1683.2,516.6 1683.2,518.1 1656.3,518.1 1656.3,516.6" fill="#00ff00"/><polygon points="1677.8,498.0 1680.4,498.0 1692.5,519.4 1692.5,520.9 1665.6,520.9 1665.6,519.4" fill="#00ff00"/><polygon points="1687.1,500.9 1689.7,500.9 1701.8,522.3 1701.8,523.8 1674.9,523.8 1674.9,522.3" fill="#00ff00"/><polygon points="1696.4,503.8 1699.0,503.8 1711.2,525.2 1711.2,526.7 1684.3,526.7 1684.3,525.2" fill="#00ff00"/><polygon points="1705.8,506.7 1708.4,506.7 1720.5,528.1 1720.5,529.6 1693.6,529.6 1693.6,528.1" fill="#00ff00"/><polygon points="1715.1,509.5 1717.7,509.5 1729.9,530.9 1729.9,532.4 1703.0,532.4 1703.0,530.9" fill="#00ff00"/><polygon points="1724.5,512.4 1727.1,512.4 1739.2,533.8 1739.2,535.3 1712.3,535.3 1712.3,533.8" fill="#00ff00"/><polygon points="1733.8,515.2 1736.4,515.2 1748.6,536.6 1748.6,538.1 1721.7,538.1 1721.7,536.6" fill="#00ff00"/><polygon points="1743.1,518.1 1745.7,518.1 1757.9,539.5 1757.9,541.0 1731.0,541.0 1731.0,539.5" fill="#00ff00"/><polygon points="1752.5,520.9 1755.1,520.9 1767.2,542.3 1767.2,543.8 1740.3,543.8 1740.3,542.3" fill="#00ff00"/><polygon points="1761.8,523.5 1764.4,523.5 1776.6,544.9 1776.6,546.4 1749.7,546.4 1749.7,544.9" fill="#00ff00"/><polygon points="1771.2,526.1 1773.8,526.1 1785.9,547.5 1785.9,549.0 1759.0,549.0 1759.0,547.5" fill="#00ff00"/><polygon points="1780.5,528.6 1783.1,528.6 1795.3,550.0 1795.3,551.5 1768.4,551.5 1768.4,550.0" fill="#00ff00"/><polygon points="1789.9,531.1 1792.5,531.1 1804.6,552.5 1804.6,554.0 1777.7,554.0 1777.7,552.5" fill="#00ff00"/><polygon points="1799.2,534.4 1801.8,534.4 1813.9,555.8 1813.9,557.3 1787.0,557.3 1787.0,555.8" fill="#00ff00"/><polygon points="1808.5,539.0 1811.1,539.0 1823.3,560.4 1823.3,561.9 1796.4,561.9 1796.4,560.4" fill="#00ff00"/><polygon points="1812.2,540.8 1814.8,540.8 1826.9,562.2 1826.9,563.7 1800.0,563.7 1800.0,562.2" fill="#00ff00"/><polygon points="1847.0,547.9 1849.6,547.9 1861.8,569.3 1861.8,570.8 1834.9,570.8 1834.9,569.3" fill="#00ff00"/><polygon points="1851.5,552.0 1854.1,552.0 1866.3,573.4 1866.3,574.9 1839.4,574.9 1839.4,573.4" fill="#00ff00"/><polygon points="1886.7,564.7 1889.3,564.7 1901.5,586.1 1901.5,587.6 1874.6,587.6 1874.6,586.1" fill="#00ff00"/><polygon points="1896.8,568.2 1899.4,568.2 1911.6,589.6 1911.6,591.1 1884.7,591.1 1884.7,589.6" fill="#00ff00"/><polygon points="1906.9,571.6 1909.5,571.6 1921.7,593.0 1921.7,594.5 1894.8,594.5 1894.8,593.0" fill="#00ff00"/><polygon points="1917.0,575.1 1919.6,575.1 1931.8,596.5 1931.8,598.0 1904.9,598.0 1904.9,596.5" fill="#00ff00"/><polygon points="1927.1,578.5 1929.7,578.5 1941.8,599.9 1941.8,601.4 1914.9,601.4 1914.9,599.9" fill="#00ff00"/><polygon points="1937.2,582.0 1939.8,582.0 1951.9,603.4 1951.9,604.9 1925.0,604.9 1925.0,603.4" fill="#00ff00"/><polygon points="1947.3,585.4 1949.9,585.4 1962.0,606.8 1962.0,608.3 1935.1,608.3 1935.1,606.8" fill="#00ff00"/><polygon points="1957.4,588.9 1960.0,588.9 1972.1,610.3 1972.1,611.8 1945.2,611.8 1945.2,610.3" fill="#00ff00"/><polygon points="1967.4,592.3 1970.0,592.3 1982.2,613.7 1982.2,615.2 1955.3,615.2 1955.3,613.7" fill="#00ff00"/><polygon points="1977.5,595.8 1980.1,595.8 1992.3,617.2 1992.3,618.7 1965.4,618.7 1965.4,617.2" fill="#00ff00"/><polygon points="1987.6,599.3 1990.2,599.3 2002.4,620.7 2002.4,622.2 1975.5,622.2 1975.5,620.7" fill="#00ff00"/><polygon points="1997.7,602.7 2000.3,602.7 2012.5,624.1 2012.5,625.6 1985.6,625.6 1985.6,624.1" fill="#00ff00"/><polygon points="2007.8,606.2 2010.4,606.2 2022.6,627.6 2022.6,629.1 1995.7,629.1 1995.7,627.6" fill="#00ff00"/><polygon points="2017.9,609.6 2020.5,609.6 2032.6,631.0 2032.6,632.5 2005.7,632.5 2005.7,631.0" fill="#00ff00"/><polygon points="2028.0,613.1 2030.6,613.1 2042.7,634.5 2042.7,636.0 2015.8,636.0 2015.8,634.5" fill="#00ff00"/><polygon points="2038.1,616.5 2040.7,616.5 2052.8,637.9 2052.8,639.4 2025.9,639.4 2025.9,637.9" fill="#00ff00"/><polygon points="2048.2,620.0 2050.8,620.0 2062.9,641.4 2062.9,642.9 2036.0,642.9 2036.0,641.4" fill="#00ff00"/><polygon points="2058.3,623.4 2060.9,623.4 2073.0,644.8 2073.0,646.3 2046.1,646.3 2046.1,644.8" fill="#00ff00"/><polygon points="2068.3,626.9 2070.9,626.9 2083.1,648.3 2083.1,649.8 2056.2,649.8 2056.2,648.3" fill="#00ff00"/><polygon points="2078.4,630.3 2081.0,630.3 2093.2,651.7 2093.2,653.2 2066.3,653.2 2066.3,651.7" fill="#00ff00"/><polygon points="2088.5,633.8 2091.1,633.8 2103.3,655.2 2103.3,656.7 2076.4,656.7 2076.4,655.2" fill="#00ff00"/>
<polygon points="1163.0,288.3 1167.4,288.3 1178.8,308.4 1178.8,312.0 1151.6,312.0 1151.6,308.4" fill="#00ff00"/><polygon points="1165.2,297.7 1170.8,307.1 1159.6,307.1" fill="#fff"/><polygon points="1167.7,295.4 1172.1,295.4 1183.5,315.5 1183.5,319.1 1156.3,319.1 1156.3,315.5" fill="#00ff00"/><polygon points="1169.9,304.8 1175.5,314.2 1164.3,314.2" fill="#fff"/><polygon points="1172.4,302.5 1176.8,302.5 1188.2,322.6 1188.2,326.2 1161.0,326.2 1161.0,322.6" fill="#00ff00"/><polygon points="1174.6,311.9 1180.2,321.3 1169.0,321.3" fill="#fff"/><polygon points="1177.1,309.6 1181.5,309.6 1192.9,329.7 1192.9,333.3 1165.7,333.3 1165.7,329.7" fill="#00ff00"/><polygon points="1179.3,319.0 1184.9,328.4 1173.7,328.4" fill="#fff"/><polygon points="1181.7,317.0 1186.1,317.0 1197.5,337.1 1197.5,340.7 1170.3,340.7 1170.3,337.1" fill="#00ff00"/><polygon points="1183.9,326.4 1189.5,335.8 1178.3,335.8" fill="#fff"/><polygon points="1186.4,323.7 1190.8,323.7 1202.2,343.8 1202.2,347.4 1175.0,347.4 1175.0,343.8" fill="#00ff00"/><polygon points="1188.6,333.1 1194.2,342.5 1183.0,342.5" fill="#fff"/><polygon points="1191.1,329.9 1195.5,329.9 1206.9,350.0 1206.9,353.6 1179.7,353.6 1179.7,350.0" fill="#00ff00"/><polygon points="1193.3,339.3 1198.9,348.7 1187.7,348.7" fill="#fff"/><polygon points="1195.7,336.2 1200.1,336.2 1211.5,356.3 1211.5,359.9 1184.3,359.9 1184.3,356.3" fill="#00ff00"/><polygon points="1197.9,345.6 1203.5,355.0 1192.3,355.0" fill="#fff"/><polygon points="1200.4,342.7 1204.8,342.7 1216.2,362.8 1216.2,366.4 1189.0,366.4 1189.0,362.8" fill="#00ff00"/><polygon points="1202.6,352.1 1208.2,361.5 1197.0,361.5" fill="#fff"/><polygon points="1205.1,348.8 1209.5,348.8 1220.9,368.9 1220.9,372.5 1193.7,372.5 1193.7,368.9" fill="#00ff00"/><polygon points="1207.3,358.2 1212.9,367.6 1201.7,367.6" fill="#fff"/><polygon points="1209.8,353.2 1214.2,353.2 1225.6,373.3 1225.6,376.9 1198.4,376.9 1198.4,373.3" fill="#00ff00"/><polygon points="1212.0,362.6 1217.6,372.0 1206.4,372.0" fill="#fff"/><polygon points="1214.4,357.8 1218.8,357.8 1230.2,377.9 1230.2,381.5 1203.0,381.5 1203.0,377.9" fill="#00ff00"/><polygon points="1216.6,367.2 1222.2,376.6 1211.0,376.6" fill="#fff"/><polygon points="1219.1,363.0 1223.5,363.0 1234.9,383.1 1234.9,386.7 1207.7,386.7 1207.7,383.1" fill="#00ff00"/><polygon points="1221.3,372.4 1226.9,381.8 1215.7,381.8" fill="#fff"/><polygon points="1223.8,367.9 1228.2,367.9 1239.6,388.0 1239.6,391.6 1212.4,391.6 1212.4,388.0" fill="#00ff00"/><polygon points="1226.0,377.3 1231.6,386.7 1220.4,386.7" fill="#fff"/><polygon points="1228.4,372.4 1232.8,372.4 1244.2,392.5 1244.2,396.1 1217.0,396.1 1217.0,392.5" fill="#00ff00"/><polygon points="1230.6,381.8 1236.2,391.2 1225.0,391.2" fill="#fff"/><polygon points="1233.1,377.6 1237.5,377.6 1248.9,397.7 1248.9,401.3 1221.7,401.3 1221.7,397.7" fill="#00ff00"/><polygon points="1235.3,387.0 1240.9,396.4 1229.7,396.4" fill="#fff"/><polygon points="1237.8,383.0 1242.2,383.0 1253.6,403.1 1253.6,406.7 1226.4,406.7 1226.4,403.1" fill="#00ff00"/><polygon points="1240.0,392.4 1245.6,401.8 1234.4,401.8" fill="#fff"/><polygon points="1242.4,388.4 1246.8,388.4 1258.2,408.5 1258.2,412.1 1231.0,412.1 1231.0,408.5" fill="#00ff00"/><polygon points="1244.6,397.8 1250.2,407.2 1239.0,407.2" fill="#fff"/><polygon points="1247.1,393.7 1251.5,393.7 1262.9,413.8 1262.9,417.4 1235.7,417.4 1235.7,413.8" fill="#00ff00"/><polygon points="1249.3,403.1 1254.9,412.5 1243.7,412.5" fill="#fff"/><polygon points="1247.1,393.7 1251.5,393.7 1262.9,413.8 1262.9,417.4 1235.7,417.4 1235.7,413.8" fill="#00ff00"/><polygon points="1249.3,403.1 1254.9,412.5 1243.7,412.5" fill="#fff"/><polygon points="1257.0,402.3 1261.4,402.3 1272.8,422.4 1272.8,426.0 1245.6,426.0 1245.6,422.4" fill="#00ff00"/><polygon points="1259.2,411.7 1264.8,421.1 1253.6,421.1" fill="#fff"/><polygon points="1266.9,410.9 1271.3,410.9 1282.7,431.0 1282.7,434.6 1255.5,434.6 1255.5,431.0" fill="#00ff00"/><polygon points="1269.1,420.3 1274.7,429.7 1263.5,429.7" fill="#fff"/><polygon points="1276.8,420.6 1281.2,420.6 1292.6,440.7 1292.6,444.3 1265.4,444.3 1265.4,440.7" fill="#00ff00"/><polygon points="1279.0,430.0 1284.6,439.4 1273.4,439.4" fill="#fff"/><polygon points="1286.7,430.4 1291.1,430.4 1302.5,450.5 1302.5,454.1 1275.3,454.1 1275.3,450.5" fill="#00ff00"/><polygon points="1288.9,439.8 1294.5,449.2 1283.3,449.2" fill="#fff"/><polygon points="1296.6,441.0 1301.0,441.0 1312.4,461.1 1312.4,464.7 1285.2,464.7 1285.2,461.1" fill="#00ff00"/><polygon points="1298.8,450.4 1304.4,459.8 1293.2,459.8" fill="#fff"/><polygon points="1306.5,451.0 1310.9,451.0 1322.3,471.1 1322.3,474.7 1295.1,474.7 1295.1,471.1" fill="#00ff00"/><polygon points="1308.7,460.4 1314.3,469.8 1303.1,469.8" fill="#fff"/><polygon points="1316.4,460.8 1320.8,460.8 1332.2,480.9 1332.2,484.5 1305.0,484.5 1305.0,480.9" fill="#00ff00"/><polygon points="1318.6,470.2 1324.2,479.6 1313.0,479.6" fill="#fff"/><polygon points="1326.3,470.7 1330.7,470.7 1342.1,490.8 1342.1,494.4 1314.9,494.4 1314.9,490.8" fill="#00ff00"/><polygon points="1328.5,480.1 1334.1,489.5 1322.9,489.5" fill="#fff"/><polygon points="1336.2,480.7 1340.6,480.7 1352.0,500.8 1352.0,504.4 1324.8,504.4 1324.8,500.8" fill="#00ff00"/><polygon points="1338.4,490.1 1344.0,499.5 1332.8,499.5" fill="#fff"/><polygon points="1346.1,491.1 1350.5,491.1 1361.9,511.2 1361.9,514.8 1334.7,514.8 1334.7,511.2" fill="#00ff00"/><polygon points="1348.3,500.5 1353.9,509.9 1342.7,509.9" fill="#fff"/><polygon points="1356.0,501.7 1360.4,501.7 1371.8,521.8 1371.8,525.4 1344.6,525.4 1344.6,521.8" fill="#00ff00"/><polygon points="1358.2,511.1 1363.8,520.5 1352.6,520.5" fill="#fff"/><polygon points="1366.0,511.0 1370.4,511.0 1381.8,531.1 1381.8,534.7 1354.6,534.7 1354.6,531.1" fill="#00ff00"/><polygon points="1368.2,520.4 1373.8,529.8 1362.6,529.8" fill="#fff"/><polygon points="1375.9,520.1 1380.3,520.1 1391.7,540.2 1391.7,543.8 1364.5,543.8 1364.5,540.2" fill="#00ff00"/><polygon points="1378.1,529.5 1383.7,538.9 1372.5,538.9" fill="#fff"/><polygon points="1385.8,529.6 1390.2,529.6 1401.6,549.7 1401.6,553.3 1374.4,553.3 1374.4,549.7" fill="#00ff00"/><polygon points="1388.0,539.0 1393.6,548.4 1382.4,548.4" fill="#fff"/><polygon points="1395.7,539.2 1400.1,539.2 1411.5,559.3 1411.5,562.9 1384.3,562.9 1384.3,559.3" fill="#00ff00"/><polygon points="1397.9,548.6 1403.5,558.0 1392.3,558.0" fill="#fff"/><polygon points="1405.6,548.4 1410.0,548.4 1421.4,568.5 1421.4,572.1 1394.2,572.1 1394.2,568.5" fill="#00ff00"/><polygon points="1407.8,557.8 1413.4,567.2 1402.2,567.2" fill="#fff"/><polygon points="1415.5,557.2 1419.9,557.2 1431.3,577.3 1431.3,580.9 1404.1,580.9 1404.1,577.3" fill="#00ff00"/><polygon points="1417.7,566.6 1423.3,576.0 1412.1,576.0" fill="#fff"/><polygon points="1425.4,565.9 1429.8,565.9 1441.2,586.0 1441.2,589.6 1414.0,589.6 1414.0,586.0" fill="#00ff00"/><polygon points="1427.6,575.3 1433.2,584.7 1422.0,584.7" fill="#fff"/><polygon points="1435.3,574.7 1439.7,574.7 1451.1,594.8 1451.1,598.4 1423.9,598.4 1423.9,594.8" fill="#00ff00"/><polygon points="1437.5,584.1 1443.1,593.5 1431.9,593.5" fill="#fff"/><polygon points="1445.2,583.5 1449.6,583.5 1461.0,603.6 1461.0,607.2 1433.8,607.2 1433.8,603.6" fill="#00ff00"/><polygon points="1447.4,592.9 1453.0,602.3 1441.8,602.3" fill="#fff"/><polygon points="1455.1,592.5 1459.5,592.5 1470.9,612.6 1470.9,616.2 1443.7,616.2 1443.7,612.6" fill="#00ff00"/><polygon points="1457.3,601.9 1462.9,611.3 1451.7,611.3" fill="#fff"/><polygon points="1465.0,601.4 1469.4,601.4 1480.8,621.5 1480.8,625.1 1453.6,625.1 1453.6,621.5" fill="#00ff00"/><polygon points="1467.2,610.8 1472.8,620.2 1461.6,620.2" fill="#fff"/><polygon points="1474.9,608.0 1479.3,608.0 1490.7,628.1 1490.7,631.7 1463.5,631.7 1463.5,628.1" fill="#00ff00"/><polygon points="1477.1,617.4 1482.7,626.8 1471.5,626.8" fill="#fff"/><polygon points="1484.8,613.2 1489.2,613.2 1500.6,633.4 1500.6,637.0 1473.4,637.0 1473.4,633.4" fill="#00ff00"/><polygon points="1487.0,622.7 1492.6,632.1 1481.4,632.1" fill="#fff"/><polygon points="1494.7,618.5 1499.1,618.5 1510.5,638.6 1510.5,642.2 1483.3,642.2 1483.3,638.6" fill="#00ff00"/><polygon points="1496.9,628.0 1502.5,637.4 1491.3,637.4" fill="#fff"/><polygon points="1504.6,624.7 1509.0,624.7 1520.4,644.8 1520.4,648.4 1493.2,648.4 1493.2,644.8" fill="#00ff00"/><polygon points="1506.8,634.1 1512.4,643.5 1501.2,643.5" fill="#fff"/><polygon points="1514.5,631.7 1518.9,631.7 1530.3,651.8 1530.3,655.4 1503.1,655.4 1503.1,651.8" fill="#00ff00"/><polygon points="1516.7,641.1 1522.3,650.5 1511.1,650.5" fill="#fff"/><polygon points="1524.4,638.8 1528.8,638.8 1540.2,658.9 1540.2,662.5 1513.0,662.5 1513.0,658.9" fill="#00ff00"/><polygon points="1526.6,648.2 1532.2,657.6 1521.0,657.6" fill="#fff"/><polygon points="1534.3,645.3 1538.7,645.3 1550.1,665.4 1550.1,669.0 1522.9,669.0 1522.9,665.4" fill="#00ff00"/><polygon points="1536.5,654.7 1542.1,664.1 1530.9,664.1" fill="#fff"/><polygon points="1544.2,651.4 1548.6,651.4 1560.0,671.5 1560.0,675.1 1532.8,675.1 1532.8,671.5" fill="#00ff00"/><polygon points="1546.4,660.8 1552.0,670.2 1540.8,670.2" fill="#fff"/><polygon points="1554.1,657.5 1558.5,657.5 1569.9,677.6 1569.9,681.2 1542.7,681.2 1542.7,677.6" fill="#00ff00"/><polygon points="1556.3,666.9 1561.9,676.3 1550.7,676.3" fill="#fff"/><polygon points="1564.0,662.6 1568.4,662.6 1579.8,682.7 1579.8,686.3 1552.6,686.3 1552.6,682.7" fill="#00ff00"/><polygon points="1566.2,672.0 1571.8,681.4 1560.6,681.4" fill="#fff"/><polygon points="1573.9,666.8 1578.3,666.8 1589.7,686.9 1589.7,690.5 1562.5,690.5 1562.5,686.9" fill="#00ff00"/><polygon points="1576.1,676.2 1581.7,685.6 1570.5,685.6" fill="#fff"/><polygon points="1583.8,671.1 1588.2,671.1 1599.6,691.2 1599.6,694.8 1572.4,694.8 1572.4,691.2" fill="#00ff00"/><polygon points="1586.0,680.5 1591.6,689.9 1580.4,689.9" fill="#fff"/><polygon points="1593.7,675.5 1598.1,675.5 1609.5,695.6 1609.5,699.2 1582.3,699.2 1582.3,695.6" fill="#00ff00"/><polygon points="1595.9,684.9 1601.5,694.3 1590.3,694.3" fill="#fff"/><polygon points="1603.6,679.9 1608.0,679.9 1619.4,700.0 1619.4,703.6 1592.2,703.6 1592.2,700.0" fill="#00ff00"/><polygon points="1605.8,689.3 1611.4,698.7 1600.2,698.7" fill="#fff"/><polygon points="1613.5,684.2 1617.9,684.2 1629.3,704.3 1629.3,707.9 1602.1,707.9 1602.1,704.3" fill="#00ff00"/><polygon points="1615.7,693.6 1621.3,703.0 1610.1,703.0" fill="#fff"/><polygon points="1623.4,688.6 1627.8,688.6 1639.2,708.7 1639.2,712.3 1612.0,712.3 1612.0,708.7" fill="#00ff00"/><polygon points="1625.6,698.0 1631.2,707.4 1620.0,707.4" fill="#fff"/><polygon points="1633.3,693.0 1637.7,693.0 1649.1,713.1 1649.1,716.7 1621.9,716.7 1621.9,713.1" fill="#00ff00"/><polygon points="1635.5,702.4 1641.1,711.8 1629.9,711.8" fill="#fff"/><polygon points="1643.2,697.3 1647.6,697.3 1659.0,717.4 1659.0,721.0 1631.8,721.0 1631.8,717.4" fill="#00ff00"/><polygon points="1645.4,706.7 1651.0,716.1 1639.8,716.1" fill="#fff"/><polygon points="1653.1,701.6 1657.5,701.6 1668.9,721.7 1668.9,725.3 1641.7,725.3 1641.7,721.7" fill="#00ff00"/><polygon points="1655.3,711.0 1660.9,720.4 1649.7,720.4" fill="#fff"/><polygon points="1663.0,706.0 1667.4,706.0 1678.8,726.1 1678.8,729.7 1651.6,729.7 1651.6,726.1" fill="#00ff00"/><polygon points="1665.2,715.4 1670.8,724.8 1659.6,724.8" fill="#fff"/><polygon points="1672.9,710.1 1677.3,710.1 1688.7,730.2 1688.7,733.8 1661.5,733.8 1661.5,730.2" fill="#00ff00"/><polygon points="1675.1,719.5 1680.7,728.9 1669.5,728.9" fill="#fff"/><polygon points="1682.8,713.2 1687.2,713.2 1698.6,733.3 1698.6,736.9 1671.4,736.9 1671.4,733.3" fill="#00ff00"/><polygon points="1685.0,722.6 1690.6,732.0 1679.4,732.0" fill="#fff"/><polygon points="1692.7,716.3 1697.1,716.3 1708.5,736.4 1708.5,740.0 1681.3,740.0 1681.3,736.4" fill="#00ff00"/><polygon points="1694.9,725.7 1700.5,735.1 1689.3,735.1" fill="#fff"/><polygon points="1730.1,732.2 1734.5,732.2 1745.9,752.3 1745.9,755.9 1718.7,755.9 1718.7,752.3" fill="#00ff00"/><polygon points="1732.3,741.6 1737.9,751.0 1726.7,751.0" fill="#fff"/><polygon points="1744.1,732.2 1748.5,732.2 1759.9,752.3 1759.9,755.9 1732.7,755.9 1732.7,752.3" fill="#00ff00"/><polygon points="1746.3,741.6 1751.9,751.0 1740.7,751.0" fill="#fff"/><polygon points="1763.2,753.6 1767.6,753.6 1779.0,773.7 1779.0,777.3 1751.8,777.3 1751.8,773.7" fill="#00ff00"/><polygon points="1765.4,763.0 1771.0,772.4 1759.8,772.4" fill="#fff"/><polygon points="1772.1,741.5 1776.5,741.5 1787.9,761.6 1787.9,765.2 1760.7,765.2 1760.7,761.6" fill="#00ff00"/><polygon points="1774.3,750.9 1779.9,760.3 1768.7,760.3" fill="#fff"/><polygon points="1794.6,750.8 1799.0,750.8 1810.4,770.9 1810.4,774.5 1783.2,774.5 1783.2,770.9" fill="#00ff00"/><polygon points="1796.8,760.2 1802.4,769.6 1791.2,769.6" fill="#fff"/>
<circle cx="1183.9" cy="308.0" r="11.0" fill="#ff0000"/><circle cx="1193.3" cy="316.0" r="11.0" fill="#ff0000"/><circle cx="1212.0" cy="327.0" r="11.0" fill="#ff0000"/><circle cx="1230.6" cy="339.3" r="11.0" fill="#ff0000"/><circle cx="1249.3" cy="345.7" r="11.0" fill="#ff0000"/><circle cx="1268.0" cy="352.2" r="11.0" fill="#ff0000"/><circle cx="1286.7" cy="359.6" r="11.0" fill="#ff0000"/><circle cx="1305.4" cy="364.9" r="11.0" fill="#ff0000"/><circle cx="1324.1" cy="370.8" r="11.0" fill="#ff0000"/><circle cx="1342.7" cy="376.2" r="11.0" fill="#ff0000"/><circle cx="1361.4" cy="382.0" r="11.0" fill="#ff0000"/><circle cx="1380.1" cy="387.6" r="11.0" fill="#ff0000"/><circle cx="1398.8" cy="391.7" r="11.0" fill="#ff0000"/><circle cx="1417.5" cy="396.9" r="11.0" fill="#ff0000"/><circle cx="1436.2" cy="402.1" r="11.0" fill="#ff0000"/><circle cx="1454.8" cy="408.1" r="11.0" fill="#ff0000"/><circle cx="1473.5" cy="413.3" r="11.0" fill="#ff0000"/><circle cx="1492.2" cy="418.4" r="11.0" fill="#ff0000"/><circle cx="1510.9" cy="423.9" r="11.0" fill="#ff0000"/><circle cx="1529.6" cy="428.4" r="11.0" fill="#ff0000"/><circle cx="1566.9" cy="437.7" r="11.0" fill="#ff0000"/><circle cx="1604.3" cy="448.7" r="11.0" fill="#ff0000"/><circle cx="1641.7" cy="459.7" r="11.0" fill="#ff0000"/><circle cx="1679.1" cy="471.1" r="11.0" fill="#ff0000"/><circle cx="1716.4" cy="482.2" r="11.0" fill="#ff0000"/><circle cx="1753.8" cy="494.9" r="11.0" fill="#ff0000"/><circle cx="1791.2" cy="507.9" r="11.0" fill="#ff0000"/><circle cx="1828.5" cy="520.6" r="11.0" fill="#ff0000"/><circle cx="1865.9" cy="533.3" r="11.0" fill="#ff0000"/><circle cx="1903.3" cy="548.0" r="11.0" fill="#ff0000"/><circle cx="1940.6" cy="557.5" r="11.0" fill="#ff0000"/><circle cx="1978.0" cy="571.5" r="11.0" fill="#ff0000"/><circle cx="2015.4" cy="585.9" r="11.0" fill="#ff0000"/><circle cx="2052.7" cy="603.3" r="11.0" fill="#ff0000"/><circle cx="2090.1" cy="620.3" r="11.0" fill="#ff0000"/>
<circle cx="1155.9" cy="226.0" r="8.45" fill="#fff" stroke="#ff0000" stroke-width="5.7"/><circle cx="1165.2" cy="305.0" r="8.45" fill="#fff" stroke="#ff0000" stroke-width="5.7"/><circle cx="1174.6" cy="325.0" r="8.45" fill="#fff" stroke="#ff0000" stroke-width="5.7"/><circle cx="1193.3" cy="342.0" r="8.45" fill="#fff" stroke="#ff0000" stroke-width="5.7"/><circle cx="1212.0" cy="356.1" r="8.45" fill="#fff" stroke="#ff0000" stroke-width="5.7"/><circle cx="1230.6" cy="375.9" r="8.45" fill="#fff" stroke="#ff0000" stroke-width="5.7"/><circle cx="1249.3" cy="383.3" r="8.45" fill="#fff" stroke="#ff0000" stroke-width="5.7"/><circle cx="1268.0" cy="392.6" r="8.45" fill="#fff" stroke="#ff0000" stroke-width="5.7"/><circle cx="1286.7" cy="404.7" r="8.45" fill="#fff" stroke="#ff0000" stroke-width="5.7"/><circle cx="1305.4" cy="416.9" r="8.45" fill="#fff" stroke="#ff0000" stroke-width="5.7"/><circle cx="1324.1" cy="429.7" r="8.45" fill="#fff" stroke="#ff0000" stroke-width="5.7"/><circle cx="1342.7" cy="441.8" r="8.45" fill="#fff" stroke="#ff0000" stroke-width="5.7"/><circle cx="1361.4" cy="449.5" r="8.45" fill="#fff" stroke="#ff0000" stroke-width="5.7"/><circle cx="1380.1" cy="463.6" r="8.45" fill="#fff" stroke="#ff0000" stroke-width="5.7"/><circle cx="1398.8" cy="477.2" r="8.45" fill="#fff" stroke="#ff0000" stroke-width="5.7"/><circle cx="1417.5" cy="489.6" r="8.45" fill="#fff" stroke="#ff0000" stroke-width="5.7"/><circle cx="1436.2" cy="502.0" r="8.45" fill="#fff" stroke="#ff0000" stroke-width="5.7"/><circle cx="1454.8" cy="515.3" r="8.45" fill="#fff" stroke="#ff0000" stroke-width="5.7"/><circle cx="1473.5" cy="530.7" r="8.45" fill="#fff" stroke="#ff0000" stroke-width="5.7"/><circle cx="1492.2" cy="550.7" r="8.45" fill="#fff" stroke="#ff0000" stroke-width="5.7"/><circle cx="1510.9" cy="567.5" r="8.45" fill="#fff" stroke="#ff0000" stroke-width="5.7"/><circle cx="1529.6" cy="580.2" r="8.45" fill="#fff" stroke="#ff0000" stroke-width="5.7"/><circle cx="1566.9" cy="607.6" r="8.45" fill="#fff" stroke="#ff0000" stroke-width="5.7"/><circle cx="1604.3" cy="635.0" r="8.45" fill="#fff" stroke="#ff0000" stroke-width="5.7"/><circle cx="1641.7" cy="654.5" r="8.45" fill="#fff" stroke="#ff0000" stroke-width="5.7"/><circle cx="1679.1" cy="682.9" r="8.45" fill="#fff" stroke="#ff0000" stroke-width="5.7"/><circle cx="1716.4" cy="710.0" r="8.45" fill="#fff" stroke="#ff0000" stroke-width="5.7"/><circle cx="1753.8" cy="730.1" r="8.45" fill="#fff" stroke="#ff0000" stroke-width="5.7"/><circle cx="1791.2" cy="749.5" r="8.45" fill="#fff" stroke="#ff0000" stroke-width="5.7"/><circle cx="1828.5" cy="782.3" r="8.45" fill="#fff" stroke="#ff0000" stroke-width="5.7"/><circle cx="1865.9" cy="797.4" r="8.45" fill="#fff" stroke="#ff0000" stroke-width="5.7"/><circle cx="1903.3" cy="819.8" r="8.45" fill="#fff" stroke="#ff0000" stroke-width="5.7"/><circle cx="1940.6" cy="843.2" r="8.45" fill="#fff" stroke="#ff0000" stroke-width="5.7"/><circle cx="1978.0" cy="864.4" r="8.45" fill="#fff" stroke="#ff0000" stroke-width="5.7"/>
<rect x="1146.0" y="203.4" width="19.9" height="19.9" fill="#000000"/><rect x="1148.8" y="244.4" width="19.9" height="19.9" fill="#000000"/><rect x="1152.5" y="260.1" width="19.9" height="19.9" fill="#000000"/><rect x="1156.2" y="273.1" width="19.9" height="19.9" fill="#000000"/><rect x="1160.9" y="283.1" width="19.9" height="19.9" fill="#000000"/><rect x="1166.5" y="291.1" width="19.9" height="19.9" fill="#000000"/><rect x="1174.0" y="300.1" width="19.9" height="19.9" fill="#000000"/><rect x="1183.3" y="308.7" width="19.9" height="19.9" fill="#000000"/><rect x="1220.7" y="330.6" width="19.9" height="19.9" fill="#000000"/><rect x="1239.4" y="339.7" width="19.9" height="19.9" fill="#000000"/><rect x="1258.1" y="349.1" width="19.9" height="19.9" fill="#000000"/><rect x="1276.7" y="355.6" width="19.9" height="19.9" fill="#000000"/><rect x="1295.4" y="361.6" width="19.9" height="19.9" fill="#000000"/><rect x="1314.1" y="366.2" width="19.9" height="19.9" fill="#000000"/><rect x="1351.5" y="379.2" width="19.9" height="19.9" fill="#000000"/><rect x="1370.2" y="384.6" width="19.9" height="19.9" fill="#000000"/><rect x="1388.8" y="392.1" width="19.9" height="19.9" fill="#000000"/><rect x="1407.5" y="397.6" width="19.9" height="19.9" fill="#000000"/><rect x="1426.2" y="402.7" width="19.9" height="19.9" fill="#000000"/><rect x="1444.9" y="406.9" width="19.9" height="19.9" fill="#000000"/><rect x="1463.6" y="412.6" width="19.9" height="19.9" fill="#000000"/><rect x="1482.3" y="419.1" width="19.9" height="19.9" fill="#000000"/><rect x="1500.9" y="423.7" width="19.9" height="19.9" fill="#000000"/><rect x="1519.6" y="429.1" width="19.9" height="19.9" fill="#000000"/><rect x="1557.0" y="439.8" width="19.9" height="19.9" fill="#000000"/><rect x="1594.4" y="452.2" width="19.9" height="19.9" fill="#000000"/><rect x="1631.7" y="464.6" width="19.9" height="19.9" fill="#000000"/><rect x="1669.1" y="475.6" width="19.9" height="19.9" fill="#000000"/><rect x="1706.5" y="487.9" width="19.9" height="19.9" fill="#000000"/><rect x="1743.8" y="500.7" width="19.9" height="19.9" fill="#000000"/><rect x="1818.6" y="508.3" width="19.9" height="19.9" fill="#000000"/><rect x="1855.9" y="524.0" width="19.9" height="19.9" fill="#000000"/><rect x="1893.3" y="544.8" width="19.9" height="19.9" fill="#000000"/><rect x="1930.7" y="560.8" width="19.9" height="19.9" fill="#000000"/><rect x="1968.0" y="575.9" width="19.9" height="19.9" fill="#000000"/><rect x="2005.4" y="602.0" width="19.9" height="19.9" fill="#000000"/>
<rect x="1148.5" y="212.1" width="14.8" height="14.8" fill="#fff" stroke="#000000" stroke-width="5.6"/><rect x="1151.3" y="284.6" width="14.8" height="14.8" fill="#fff" stroke="#000000" stroke-width="5.6"/><rect x="1153.6" y="289.9" width="14.8" height="14.8" fill="#fff" stroke="#000000" stroke-width="5.6"/><rect x="1156.0" y="295.2" width="14.8" height="14.8" fill="#fff" stroke="#000000" stroke-width="5.6"/><rect x="1158.3" y="300.5" width="14.8" height="14.8" fill="#fff" stroke="#000000" stroke-width="5.6"/><rect x="1160.6" y="305.8" width="14.8" height="14.8" fill="#fff" stroke="#000000" stroke-width="5.6"/><rect x="1163.9" y="311.1" width="14.8" height="14.8" fill="#fff" stroke="#000000" stroke-width="5.6"/><rect x="1167.2" y="316.4" width="14.8" height="14.8" fill="#fff" stroke="#000000" stroke-width="5.6"/><rect x="1176.5" y="327.1" width="14.8" height="14.8" fill="#fff" stroke="#000000" stroke-width="5.6"/><rect x="1185.9" y="338.3" width="14.8" height="14.8" fill="#fff" stroke="#000000" stroke-width="5.6"/><rect x="1223.2" y="365.0" width="14.8" height="14.8" fill="#fff" stroke="#000000" stroke-width="5.6"/><rect x="1241.9" y="373.9" width="14.8" height="14.8" fill="#fff" stroke="#000000" stroke-width="5.6"/><rect x="1260.6" y="384.1" width="14.8" height="14.8" fill="#fff" stroke="#000000" stroke-width="5.6"/><rect x="1279.3" y="393.4" width="14.8" height="14.8" fill="#fff" stroke="#000000" stroke-width="5.6"/><rect x="1298.0" y="402.7" width="14.8" height="14.8" fill="#fff" stroke="#000000" stroke-width="5.6"/><rect x="1316.7" y="410.6" width="14.8" height="14.8" fill="#fff" stroke="#000000" stroke-width="5.6"/><rect x="1354.0" y="434.4" width="14.8" height="14.8" fill="#fff" stroke="#000000" stroke-width="5.6"/><rect x="1372.7" y="439.1" width="14.8" height="14.8" fill="#fff" stroke="#000000" stroke-width="5.6"/><rect x="1391.4" y="450.8" width="14.8" height="14.8" fill="#fff" stroke="#000000" stroke-width="5.6"/><rect x="1410.1" y="460.9" width="14.8" height="14.8" fill="#fff" stroke="#000000" stroke-width="5.6"/><rect x="1428.8" y="468.0" width="14.8" height="14.8" fill="#fff" stroke="#000000" stroke-width="5.6"/><rect x="1447.4" y="475.8" width="14.8" height="14.8" fill="#fff" stroke="#000000" stroke-width="5.6"/><rect x="1466.1" y="482.5" width="14.8" height="14.8" fill="#fff" stroke="#000000" stroke-width="5.6"/><rect x="1484.8" y="490.4" width="14.8" height="14.8" fill="#fff" stroke="#000000" stroke-width="5.6"/><rect x="1503.5" y="499.7" width="14.8" height="14.8" fill="#fff" stroke="#000000" stroke-width="5.6"/><rect x="1522.2" y="507.3" width="14.8" height="14.8" fill="#fff" stroke="#000000" stroke-width="5.6"/><rect x="1559.5" y="527.3" width="14.8" height="14.8" fill="#fff" stroke="#000000" stroke-width="5.6"/><rect x="1596.9" y="555.7" width="14.8" height="14.8" fill="#fff" stroke="#000000" stroke-width="5.6"/><rect x="1634.3" y="562.4" width="14.8" height="14.8" fill="#fff" stroke="#000000" stroke-width="5.6"/><rect x="1671.7" y="584.2" width="14.8" height="14.8" fill="#fff" stroke="#000000" stroke-width="5.6"/><rect x="1709.0" y="612.9" width="14.8" height="14.8" fill="#fff" stroke="#000000" stroke-width="5.6"/><rect x="1746.4" y="643.0" width="14.8" height="14.8" fill="#fff" stroke="#000000" stroke-width="5.6"/><rect x="1821.1" y="651.1" width="14.8" height="14.8" fill="#fff" stroke="#000000" stroke-width="5.6"/><rect x="1858.5" y="665.5" width="14.8" height="14.8" fill="#fff" stroke="#000000" stroke-width="5.6"/><rect x="1895.9" y="689.9" width="14.8" height="14.8" fill="#fff" stroke="#000000" stroke-width="5.6"/><rect x="1933.2" y="714.1" width="14.8" height="14.8" fill="#fff" stroke="#000000" stroke-width="5.6"/><rect x="1970.6" y="736.0" width="14.8" height="14.8" fill="#fff" stroke="#000000" stroke-width="5.6"/><rect x="2008.0" y="765.2" width="14.8" height="14.8" fill="#fff" stroke="#000000" stroke-width="5.6"/>
<rect x="1150" y="213" width="11" height="9.3" fill="#000"/>
</g>
<rect x="639" y="63" width="483.79999999999995" height="314.6" fill="none" stroke="#1a1a1a" stroke-width="1.3"/>
<polygon points="702.1,80.7 704.7,80.7 716.9,102.1 716.9,103.6 689.9,103.6 689.9,102.1" fill="#00ff00"/>
<polygon points="701.2,125.7 705.6,125.7 717.0,145.8 717.0,149.4 689.8,149.4 689.8,145.8" fill="#00ff00"/><polygon points="703.4,135.1 709.0,144.5 697.8,144.5" fill="#fff"/>
<circle cx="703.4" cy="187.5" r="11.0" fill="#ff0000"/>
<circle cx="703.4" cy="244.5" r="8.45" fill="#fff" stroke="#ff0000" stroke-width="5.7"/>
<rect x="693.4" y="281.1" width="19.9" height="19.9" fill="#000000"/>
<rect x="696.0" y="340.6" width="14.8" height="14.8" fill="#fff" stroke="#000000" stroke-width="5.6"/>
<text transform="translate(754.8,108.8) scale(1,1.032)" font-size="37" font-family="Liberation Sans, Arial, sans-serif">PtRu(TT)/C</text>
<text transform="translate(754.8,200.2) scale(1,1.032)" font-size="37" font-family="Liberation Sans, Arial, sans-serif">Pt<tspan font-size="23" dy="12">2</tspan><tspan dy="-12">RuMo(TT)/C</tspan></text>
<text transform="translate(754.8,304.0) scale(1,1.032)" font-size="37" font-family="Liberation Sans, Arial, sans-serif">Pt<tspan font-size="23" dy="12">2</tspan><tspan dy="-12">RuMo(LBH_TT)/C</tspan></text>
<rect x="1598.3" y="63.2" width="474.70000000000005" height="312.90000000000003" fill="none" stroke="#1a1a1a" stroke-width="1.3"/>
<polygon points="1662.5,79.0 1665.1,79.0 1677.2,100.4 1677.2,101.9 1650.3,101.9 1650.3,100.4" fill="#00ff00"/>
<polygon points="1661.6,125.7 1666.0,125.7 1677.4,145.8 1677.4,149.4 1650.2,149.4 1650.2,145.8" fill="#00ff00"/><polygon points="1663.8,135.1 1669.4,144.5 1658.2,144.5" fill="#fff"/>
<circle cx="1663.8" cy="185.8" r="11.0" fill="#ff0000"/>
<circle cx="1663.8" cy="243.6" r="8.45" fill="#fff" stroke="#ff0000" stroke-width="5.7"/>
<rect x="1653.8" y="279.6" width="19.9" height="19.9" fill="#000000"/>
<rect x="1656.4" y="338.9" width="14.8" height="14.8" fill="#fff" stroke="#000000" stroke-width="5.6"/>
<text transform="translate(1715.6,107.2) scale(1,1.032)" font-size="37" font-family="Liberation Sans, Arial, sans-serif">PtRu(TT)/C</text>
<text transform="translate(1715.6,198.9) scale(1,1.032)" font-size="37" font-family="Liberation Sans, Arial, sans-serif">Pt<tspan font-size="23" dy="12">2</tspan><tspan dy="-12">RuMo(TT)/C</tspan></text>
<text transform="translate(1705.6,302.5) scale(1,1.032)" font-size="37" font-family="Liberation Sans, Arial, sans-serif">Pt<tspan font-size="23" dy="12">2</tspan><tspan dy="-12">RuMo(LBH_TT)/C</tspan></text>
<text transform="translate(177.2,884.7) scale(1,1.032)" font-size="67" text-anchor="end" font-family="Liberation Sans, Arial, sans-serif">0.2</text>
<text transform="translate(177.2,722.2) scale(1,1.032)" font-size="67" text-anchor="end" font-family="Liberation Sans, Arial, sans-serif">0.4</text>
<text transform="translate(177.2,559.7) scale(1,1.032)" font-size="67" text-anchor="end" font-family="Liberation Sans, Arial, sans-serif">0.6</text>
<text transform="translate(177.2,397.3) scale(1,1.032)" font-size="67" text-anchor="end" font-family="Liberation Sans, Arial, sans-serif">0.8</text>
<text transform="translate(177.2,234.8) scale(1,1.032)" font-size="67" text-anchor="end" font-family="Liberation Sans, Arial, sans-serif">1.0</text>
<text transform="translate(177.2,72.3) scale(1,1.032)" font-size="67" text-anchor="end" font-family="Liberation Sans, Arial, sans-serif">1.2</text>
<text transform="translate(200.5,939.9) scale(1,1.032)" font-size="67" text-anchor="middle" font-family="Liberation Sans, Arial, sans-serif">0.0</text>
<text transform="translate(389.2,939.9) scale(1,1.032)" font-size="67" text-anchor="middle" font-family="Liberation Sans, Arial, sans-serif">0.2</text>
<text transform="translate(577.9,939.9) scale(1,1.032)" font-size="67" text-anchor="middle" font-family="Liberation Sans, Arial, sans-serif">0.4</text>
<text transform="translate(766.5,939.9) scale(1,1.032)" font-size="67" text-anchor="middle" font-family="Liberation Sans, Arial, sans-serif">0.6</text>
<text transform="translate(955.2,939.9) scale(1,1.032)" font-size="67" text-anchor="middle" font-family="Liberation Sans, Arial, sans-serif">0.8</text>
<text transform="translate(1155.4,939.9) scale(1,1.032)" font-size="67" text-anchor="middle" font-family="Liberation Sans, Arial, sans-serif">0.0</text>
<text transform="translate(1342.2,939.9) scale(1,1.032)" font-size="67" text-anchor="middle" font-family="Liberation Sans, Arial, sans-serif">0.2</text>
<text transform="translate(1529.1,939.9) scale(1,1.032)" font-size="67" text-anchor="middle" font-family="Liberation Sans, Arial, sans-serif">0.4</text>
<text transform="translate(1715.9,939.9) scale(1,1.032)" font-size="67" text-anchor="middle" font-family="Liberation Sans, Arial, sans-serif">0.6</text>
<text transform="translate(1902.8,939.9) scale(1,1.032)" font-size="67" text-anchor="middle" font-family="Liberation Sans, Arial, sans-serif">0.8</text>
<text transform="translate(2089.6,939.9) scale(1,1.032)" font-size="67" text-anchor="middle" font-family="Liberation Sans, Arial, sans-serif">1.0</text>
<text transform="translate(0,1017.5) scale(1,1.032)" font-size="67" font-family="Liberation Sans, Arial, sans-serif"><tspan x="1026.5">j </tspan><tspan x="1061.7">/ </tspan><tspan x="1098.4">A </tspan><tspan x="1163.0">cm</tspan><tspan x="1251.8" dy="-32.3" font-size="40">-2</tspan></text>
<text transform="translate(76.2,478.6) rotate(-90) scale(1,1.032)" font-size="67.3" font-family="Liberation Sans, Arial, sans-serif">E / V</text>
<text transform="translate(249.0,137.5)" font-size="64" font-weight="bold" font-family="Liberation Sans, Arial, sans-serif">a)</text>
<text transform="translate(1195.0,130.5)" font-size="64" font-weight="bold" font-family="Liberation Sans, Arial, sans-serif">b)</text>
<text transform="translate(284.0,735.5) scale(1,1.032)" font-size="43.5" font-family="Liberation Sans, Arial, sans-serif">Inicial cycle</text>
<text transform="translate(1186.0,735.3) scale(1,1.032)" font-size="43.5" font-family="Liberation Sans, Arial, sans-serif">Last Cycle</text>
<text transform="translate(1186.0,789.5) scale(1,1.032)" font-size="43.5" font-family="Liberation Sans, Arial, sans-serif">(Cycled catalyst)</text>
</svg>
</body>
</html>
